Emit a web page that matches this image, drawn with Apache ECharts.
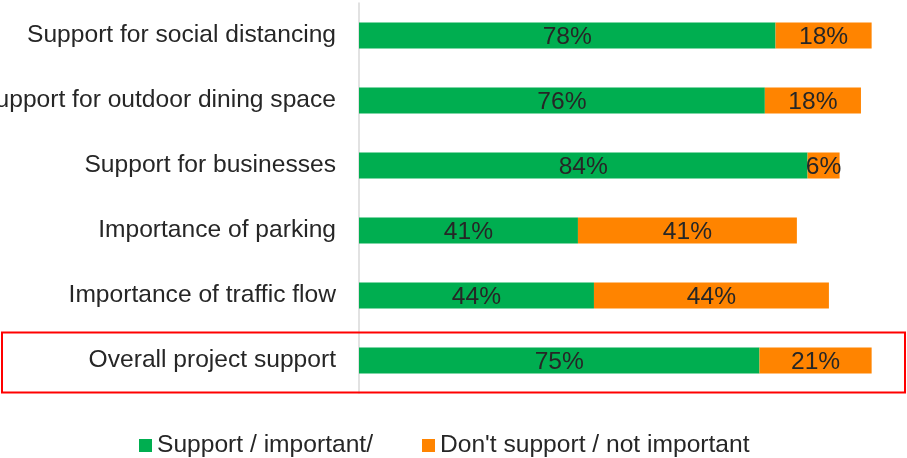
<!DOCTYPE html>
<html>
<head>
<meta charset="utf-8">
<script src="https://cdn.jsdelivr.net/npm/echarts@6/dist/echarts.min.js"></script>
<style>
  html, body { margin: 0; padding: 0; background: #fff; }
  #main { width: 907px; height: 458px; }
</style>
</head>
<body>
<div id="main"></div>
<script>
var categories = [
    "Support for social distancing",
    "Support for outdoor dining space",
    "Support for businesses",
    "Importance of parking",
    "Importance of traffic flow",
    "Overall project support"
];
var supportValues = [78, 76, 84, 41, 44, 75];
var notSupportValues = [18, 18, 6, 41, 44, 21];
var seriesNames = ["Support / important/", "Don't support / not important"];

var textColor = "#262626";
var fontFamily = "'Liberation Sans', Arial, sans-serif";
var fontSize = 24.6;

var myChart = echarts.init(document.getElementById("main"));

var labelStyle = {
    show: true,
    position: "inside",
    color: textColor,
    fontSize: fontSize,
    fontFamily: fontFamily,
    offset: [0, 2],
    formatter: "{c}%"
};

var option = {
    backgroundColor: "#fff",
    animation: false,
    grid: {
        left: 359,
        right: 14,
        top: 3,
        height: 390,
        containLabel: false,
        outerBoundsMode: "none"
    },
    legend: {
        left: 139,
        top: 433,
        padding: 0,
        itemWidth: 13,
        itemHeight: 13,
        itemGap: 49,
        icon: "rect",
        textStyle: {
            color: textColor,
            fontSize: fontSize,
            fontFamily: fontFamily
        },
        data: seriesNames
    },
    xAxis: {
        type: "value",
        min: 0,
        max: 100,
        show: false
    },
    yAxis: {
        type: "category",
        inverse: true,
        data: categories,
        axisLine: {
            lineStyle: { color: "#d9d9d9", width: 1.5 }
        },
        axisTick: { show: false },
        axisLabel: {
            color: textColor,
            fontSize: fontSize,
            fontFamily: fontFamily,
            padding: [4, 0, 0, 0],
            margin: 23
        }
    },
    series: [{
            name: seriesNames[0],
            type: "bar",
            stack: "total",
            barWidth: "40%",
            itemStyle: { color: "#00AE50" },
            label: labelStyle,
            data: supportValues
        },
        {
            name: seriesNames[1],
            type: "bar",
            stack: "total",
            barWidth: "40%",
            itemStyle: { color: "#FF8400" },
            label: labelStyle,
            data: notSupportValues
        }
    ]
};
myChart.setOption(option);

// red highlight box around the last row
var lastIdx = categories.length - 1;
var yCenter = myChart.convertToPixel({ yAxisIndex: 0 }, categories[lastIdx]);
myChart.setOption({
    graphic: [{
        type: "rect",
        shape: { x: 2, y: yCenter - 28, width: 903, height: 60 },
        style: { fill: "none", stroke: "#ff0000", lineWidth: 2 },
        z: 10
    }]
});
</script>
</body>
</html>
